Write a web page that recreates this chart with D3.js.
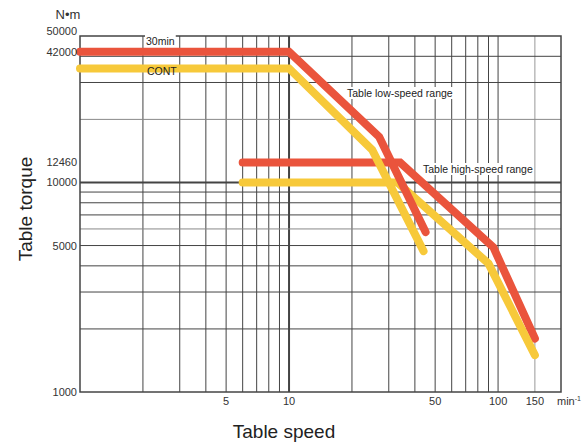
<!DOCTYPE html>
<html>
<head>
<meta charset="utf-8">
<script src="https://cdn.jsdelivr.net/npm/d3@7"></script>
<style>
  body { margin: 0; background: #fff; }
  text { font-family: "Liberation Sans", Arial, sans-serif; fill: #333; }
  .tick-label { font-size: 11px; }
  .axis-title { font-size: 19px; fill: #222; }
  .note { font-size: 10.5px; fill: #222; }
</style>
</head>
<body>
<svg id="chart" width="588" height="445"></svg>
<script>
// chart size and plot box
const width = 588;
const height = 445;
const margin = { top: 36, right: 27, bottom: 53, left: 80 };

// data (speed in min-1, torque in N·m)
const xTicks = [5, 10, 50, 100, 150];
const yTicks = [1000, 5000, 10000, 12460, 42000, 50000];
const xGrid = [2, 3, 4, 5, 6, 7, 8, 9, 10, 20, 30, 40, 50, 60, 70, 80, 90, 100, 150];
const yGrid = [2000, 3000, 4000, 5000, 6000, 7000, 8000, 9000, 10000, 20000, 30000, 40000];

const lowSpeed30min = [[1, 42000], [10, 42000], [27, 16500], [45, 5800]];
const lowSpeedCont = [[1, 35000], [10, 35000], [25, 14300], [44, 4700]];
const highSpeed30min = [[6, 12460], [34, 12460], [95, 4900], [150, 1800]];
const highSpeedCont = [[6, 10000], [33, 10000], [90, 4100], [150, 1500]];

const red = '#ea543c';
const yellow = '#f7c93a';

const svg = d3.select('#chart');

const x = d3.scaleLog()
            .domain([1, 200])
            .range([margin.left, width - margin.right]);

const y = d3.scaleLog()
            .domain([1000, 50000])
            .range([height - margin.bottom, margin.top]);

const plot = svg.append('g').attr('id', 'plot');

// grid
plot.selectAll('.vgrid')
    .data(xGrid)
    .enter().append('line')
    .attr('class', 'vgrid')
    .attr('x1', d => x(d)).attr('x2', d => x(d))
    .attr('y1', y(1000)).attr('y2', y(50000))
    .attr('stroke', d => d === 150 ? '#999' : '#444')
    .attr('stroke-width', d => d === 10 ? 2 : 1);

plot.selectAll('.hgrid')
    .data(yGrid)
    .enter().append('line')
    .attr('class', 'hgrid')
    .attr('x1', x(1)).attr('x2', x(200))
    .attr('y1', d => y(d)).attr('y2', d => y(d))
    .attr('stroke', d => (d === 20000 || d === 6000) ? '#888' : '#444')
    .attr('stroke-width', d => d === 10000 ? 2 : 1);

// frame
plot.append('rect')
    .attr('x', x(1)).attr('y', y(50000))
    .attr('width', x(200) - x(1))
    .attr('height', y(1000) - y(50000))
    .attr('fill', 'none')
    .attr('stroke', '#444')
    .attr('stroke-width', 1.5);

// labels that sit on white patches
function note(tx, ty, label) {
  const t = plot.append('text')
                .attr('class', 'note')
                .attr('x', tx).attr('y', ty)
                .text(label);
  const b = t.node().getBBox();
  plot.insert('rect', 'text')
      .attr('x', b.x - 1).attr('y', b.y)
      .attr('width', b.width + 2).attr('height', b.height)
      .attr('fill', '#fff');
  return t;
}

// torque curves
const line = d3.line()
               .x(d => x(d[0]))
               .y(d => y(d[1]));

const curves = [
  { data: highSpeed30min, color: red },
  { data: highSpeedCont, color: yellow },
  { data: lowSpeedCont, color: yellow },
  { data: lowSpeed30min, color: red }
];

plot.selectAll('.curve')
    .data(curves)
    .enter().append('path')
    .attr('class', 'curve')
    .attr('d', d => line(d.data))
    .attr('fill', 'none')
    .attr('stroke', d => d.color)
    .attr('stroke-width', 8)
    .attr('stroke-linecap', 'round')
    .attr('stroke-linejoin', 'miter');

note(146, 45, '30min');
plot.append('text').attr('class', 'note').attr('x', 147).attr('y', 75).text('CONT');
note(347, 97, 'Table low-speed range');
note(423, 173, 'Table high-speed range');

// tick labels
svg.selectAll('.ytick')
   .data(yTicks)
   .enter().append('text')
   .attr('class', 'tick-label')
   .attr('x', 77)
   .attr('y', d => y(d) + (d === 50000 ? -1 : 4))
   .attr('text-anchor', 'end')
   .text(d => d);

svg.selectAll('.xtick')
   .data(xTicks)
   .enter().append('text')
   .attr('class', 'tick-label')
   .attr('x', d => x(d))
   .attr('y', 405)
   .attr('text-anchor', 'middle')
   .text(d => d);

const unit = svg.append('text')
                .attr('class', 'tick-label')
                .attr('x', 557)
                .attr('y', 405);
unit.append('tspan').text('min');
unit.append('tspan').attr('dy', -4).style('font-size', '7px').text('-1');

svg.append('text')
   .attr('x', 68).attr('y', 19)
   .attr('text-anchor', 'middle')
   .style('font-size', '13px')
   .text('N•m');

// axis titles
svg.append('text')
   .attr('class', 'axis-title')
   .attr('x', 284).attr('y', 438)
   .attr('text-anchor', 'middle')
   .text('Table speed');

svg.append('text')
   .attr('class', 'axis-title')
   .attr('transform', 'translate(32, 209) rotate(-90)')
   .attr('text-anchor', 'middle')
   .text('Table torque');
</script>
</body>
</html>
